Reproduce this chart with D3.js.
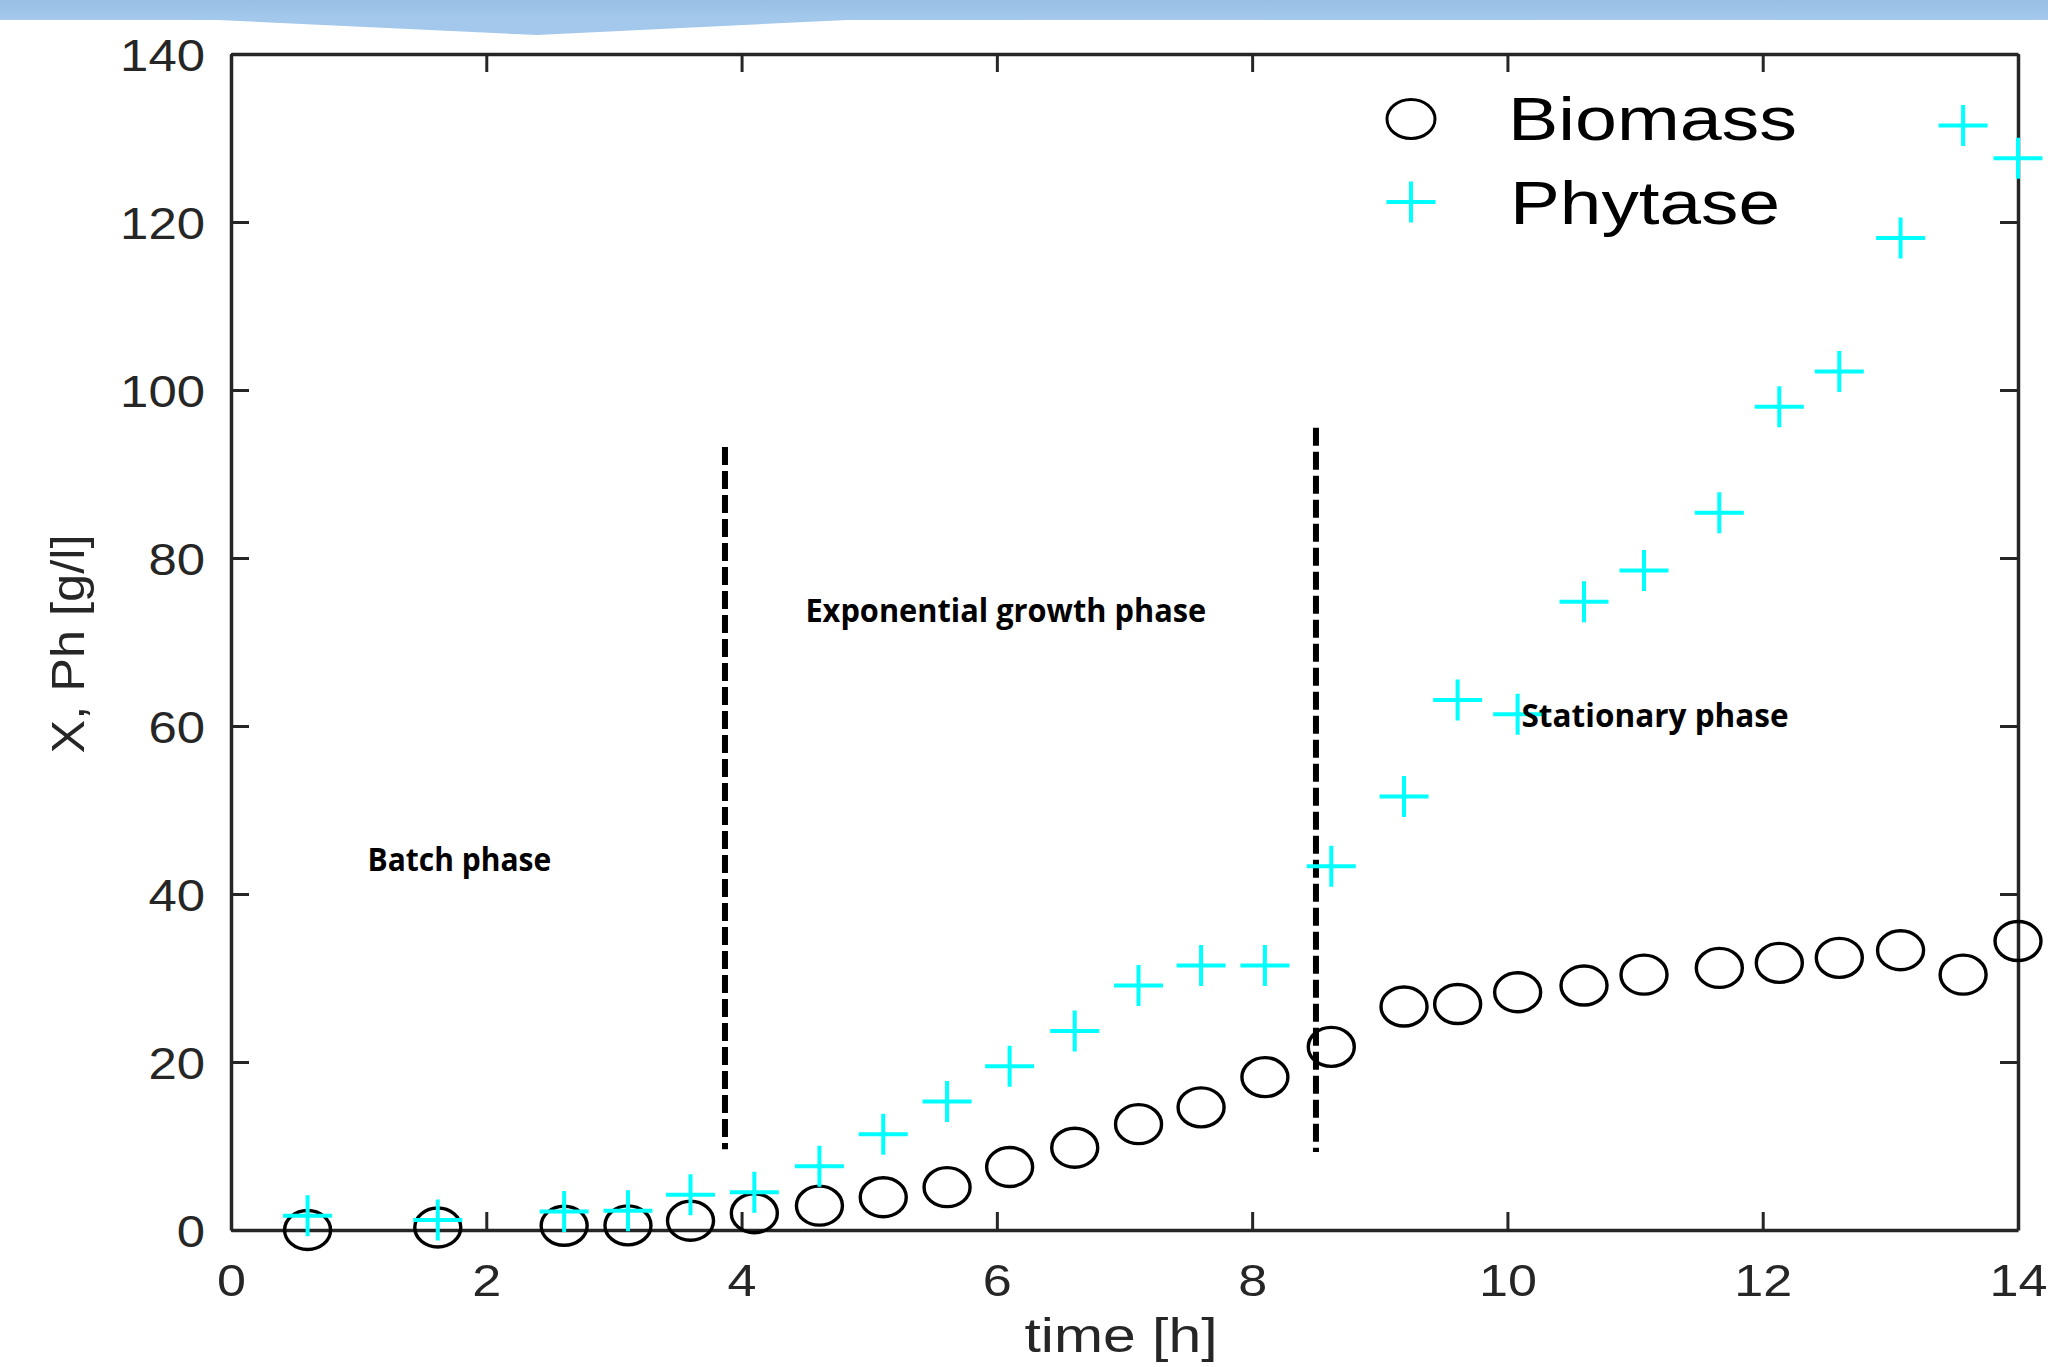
<!DOCTYPE html>
<html>
<head>
<meta charset="utf-8">
<script src="https://cdn.jsdelivr.net/npm/d3@7"></script>
<style>
  html, body { margin: 0; padding: 0; background: #fff; }
  svg { display: block; }
</style>
</head>
<body>
<svg id="chart" width="2048" height="1367"></svg>
<script>
// sampling times [h]
const time = [0.60, 1.62, 2.61, 3.11, 3.60, 4.10, 4.61, 5.11, 5.61, 6.10, 6.61, 7.11, 7.60,
  8.10, 8.62, 9.19, 9.61, 10.08, 10.60, 11.07, 11.66, 12.13, 12.60, 13.08, 13.57, 14.00];
// X [g/l]
const biomass = [0.0, 0.3, 0.5, 0.55, 1.1, 2.0, 2.9, 3.9, 5.1, 7.5, 9.8, 12.6, 14.6,
  18.2, 21.8, 26.6, 26.9, 28.3, 29.1, 30.4, 31.2, 31.8, 32.4, 33.3, 30.4, 34.4];
// Ph [g/l]
const phytase = [1.7, 1.2, 2.2, 2.3, 4.2, 4.5, 7.6, 11.4, 15.3, 19.5, 23.7, 29.1, 31.5,
  31.5, 43.3, 51.6, 63.1, 61.4, 74.8, 78.5, 85.4, 98.0, 102.2, 118.1, 131.5, 127.6];

const xTicks = [0, 2, 4, 6, 8, 10, 12, 14];
const yTicks = [0, 20, 40, 60, 80, 100, 120, 140];

// phase boundaries (time, from, to)
const boundaries = [[3.87, 9.6, 93.2], [8.50, 9.3, 95.5]];
const phaseNames = ["Batch phase", "Exponential growth phase", "Stationary phase"];
const phaseAnchors = [[1.07, 42.7], [4.50, 72.4], [10.11, 59.9]];

const svg = d3.select("#chart");
const ink = "#262626";

const x = d3.scaleLinear().domain([0, 14]).range([231, 2018]);
const y = d3.scaleLinear().domain([0, 140]).range([1230, 54]);

// header band from the slide
const defs = svg.append("defs");
const grad = defs.append("linearGradient").attr("id", "band").attr("x1", 0).attr("y1", 0).attr("x2", 0).attr("y2", 1);
grad.append("stop").attr("offset", 0).attr("stop-color", "#98c0e5");
grad.append("stop").attr("offset", 1).attr("stop-color", "#a4c9ec");
svg.append("rect").attr("x", 0).attr("y", 0).attr("width", 2048).attr("height", 20).attr("fill", "url(#band)");
svg.append("path")
  .attr("d", "M196,19 L537,35 L868,19 Z")
  .attr("fill", "#a3c8ec");

// axes (box with inward ticks)
const tickLen = 18;
const styleAxis = g => {
  g.select(".domain").attr("stroke", ink).attr("stroke-width", 3.5);
  g.selectAll(".tick line").attr("stroke", ink).attr("stroke-width", 3);
};

svg.append("g")
  .attr("transform", `translate(0,${y(0)})`)
  .call(d3.axisBottom(x).tickValues(xTicks).tickSize(-tickLen).tickSizeOuter(0).tickFormat(d3.format("d")))
  .call(styleAxis)
  .call(g => g.selectAll(".tick text")
    .attr("y", 66).attr("dy", null)
    .attr("fill", ink)
    .attr("font-family", "Liberation Sans, Arial, sans-serif")
    .attr("font-size", 45)
    .attr("lengthAdjust", "spacingAndGlyphs")
    .attr("textLength", d => String(d).length * 29));

svg.append("g")
  .attr("transform", `translate(0,${y(140)})`)
  .call(d3.axisTop(x).tickValues(xTicks).tickSize(-tickLen).tickSizeOuter(0).tickFormat(""))
  .call(styleAxis);

svg.append("g")
  .attr("transform", `translate(${x(0)},0)`)
  .call(d3.axisLeft(y).tickValues(yTicks).tickSize(-tickLen).tickSizeOuter(0).tickFormat(d3.format("d")))
  .call(styleAxis)
  .call(g => g.selectAll(".tick text")
    .attr("x", -26).attr("dy", "0.36em")
    .attr("fill", ink)
    .attr("font-family", "Liberation Sans, Arial, sans-serif")
    .attr("font-size", 45)
    .attr("lengthAdjust", "spacingAndGlyphs")
    .attr("textLength", d => String(d).length * 28.3));

svg.append("g")
  .attr("transform", `translate(${x(14)},0)`)
  .call(d3.axisRight(y).tickValues(yTicks).tickSize(-tickLen).tickSizeOuter(0).tickFormat(""))
  .call(styleAxis);

// axis titles
svg.append("text")
  .attr("x", 1121).attr("y", 1352)
  .attr("text-anchor", "middle")
  .attr("fill", ink)
  .attr("font-family", "Liberation Sans, Arial, sans-serif")
  .attr("font-size", 48)
  .attr("lengthAdjust", "spacingAndGlyphs").attr("textLength", 193)
  .text("time [h]");

svg.append("text")
  .attr("transform", "translate(84,644) rotate(-90)")
  .attr("text-anchor", "middle")
  .attr("fill", ink)
  .attr("font-family", "Liberation Sans, Arial, sans-serif")
  .attr("font-size", 46)
  .attr("lengthAdjust", "spacingAndGlyphs").attr("textLength", 219)
  .text("X, Ph [g/l]");

// phase boundaries
svg.append("g").selectAll("line")
  .data(boundaries)
  .join("line")
    .attr("x1", d => x(d[0])).attr("x2", d => x(d[0]))
    .attr("y1", d => y(d[2])).attr("y2", d => y(d[1]))
    .attr("stroke", "#000")
    .attr("stroke-width", 6)
    .attr("stroke-dasharray", "18 6");

// markers
const pts = time.map((t, i) => ({ t, bio: biomass[i], ph: phytase[i] }));

const plus = (sel, sx, sy) => sel.append("path")
  .attr("d", `M${-sx},0H${sx}M0,${-sy}V${sy}`)
  .attr("stroke", "#00ffff")
  .attr("stroke-width", 4)
  .attr("fill", "none");

svg.append("g").selectAll("ellipse")
  .data(pts)
  .join("ellipse")
    .attr("cx", d => x(d.t))
    .attr("cy", d => y(d.bio))
    .attr("rx", 23).attr("ry", 19.5)
    .attr("fill", "none")
    .attr("stroke", "#000")
    .attr("stroke-width", 3.4);

svg.append("g").selectAll("g")
  .data(pts)
  .join("g")
    .attr("transform", d => `translate(${x(d.t)},${y(d.ph)})`)
    .each(function() { plus(d3.select(this), 24.5, 20.5); });

// phase labels
svg.append("g").selectAll("text")
  .data(phaseNames)
  .join("text")
    .attr("x", (d, i) => x(phaseAnchors[i][0]))
    .attr("y", (d, i) => y(phaseAnchors[i][1]))
    .attr("fill", "#000")
    .attr("font-family", "'Open Sans', Lato, sans-serif")
    .attr("font-weight", 700)
    .attr("font-size", 33)
    .attr("lengthAdjust", "spacingAndGlyphs")
    .attr("textLength", d => d.length * 16.7)
    .text(d => d);

// legend
const legend = svg.append("g").attr("font-family", "Liberation Sans, Arial, sans-serif").attr("font-size", 62);
legend.append("ellipse")
  .attr("cx", 1411).attr("cy", 119).attr("rx", 24).attr("ry", 19.5)
  .attr("fill", "none").attr("stroke", "#000").attr("stroke-width", 3);
legend.append("text").attr("x", 1508).attr("y", 140)
  .attr("lengthAdjust", "spacingAndGlyphs").attr("textLength", 289)
  .text("Biomass");
plus(legend.append("g").attr("transform", "translate(1411,202)"), 24.5, 20.5);
legend.append("text").attr("x", 1510).attr("y", 224)
  .attr("lengthAdjust", "spacingAndGlyphs").attr("textLength", 270)
  .text("Phytase");
</script>
</body>
</html>
